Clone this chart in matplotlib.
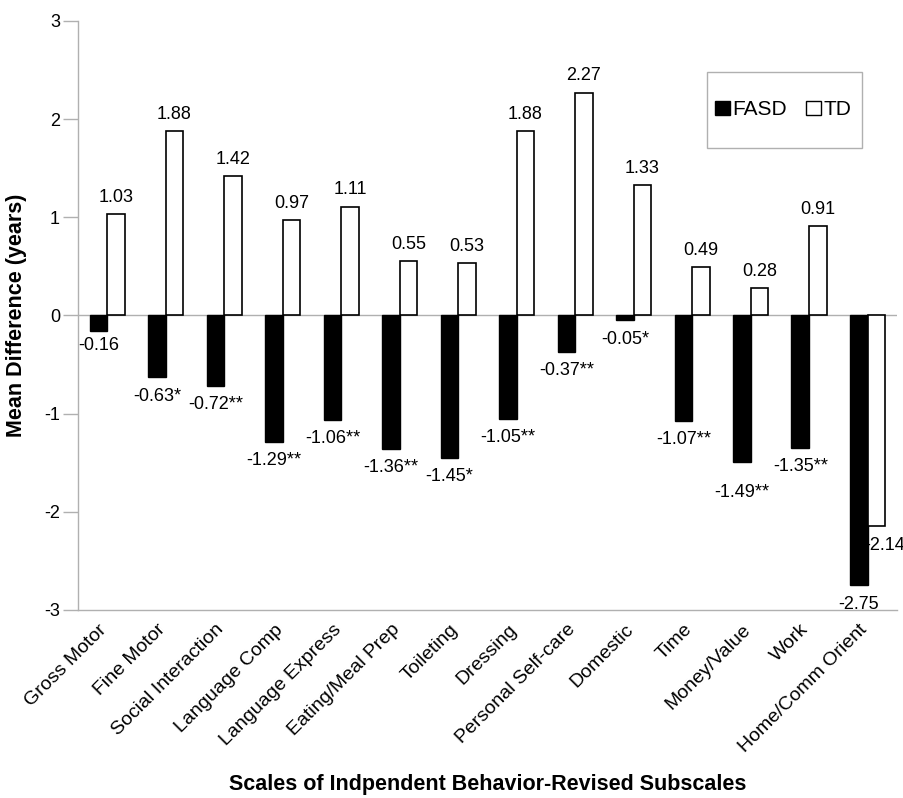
import numpy as np
import matplotlib.pyplot as plt
from matplotlib.patches import Rectangle

plt.rcParams['font.family'] = ['Liberation Sans', 'DejaVu Sans']
plt.rcParams['axes.unicode_minus'] = False

# subscales on the x axis
subscales = ["Gross Motor", "Fine Motor", "Social Interaction", "Language Comp",
             "Language Express", "Eating/Meal Prep", "Toileting", "Dressing",
             "Personal Self-care", "Domestic", "Time", "Money/Value", "Work",
             "Home/Comm Orient"]

# mean difference in years for each group
fasd = [-0.16, -0.63, -0.72, -1.29, -1.06, -1.36, -1.45, -1.05, -0.37, -0.05,
        -1.07, -1.49, -1.35, -2.75]
td = [1.03, 1.88, 1.42, 0.97, 1.11, 0.55, 0.53, 1.88, 2.27, 1.33, 0.49, 0.28,
      0.91, -2.14]

# significance marks printed after the FASD values
fasd_sig = ["", "*", "**", "**", "**", "**", "*", "**", "**", "*", "**", "**",
            "**", ""]

fig = plt.figure(figsize=(9.04, 7.98), dpi=100)
ax = fig.add_axes([0.0863, 0.2356, 0.9057, 0.7381])

x = np.arange(len(subscales))
w = 0.3
ax.bar(x - w / 2, fasd, w, color="black", edgecolor="black", linewidth=1.0, zorder=3)
ax.bar(x + w / 2, td, w, color="white", edgecolor="black", linewidth=1.2, zorder=3)

ax.axhline(0, color="#b0b0b0", linewidth=1.0, zorder=2)

# value labels
for i in range(len(subscales)):
    off = -13.5
    if fasd[i] == -1.49:
        off = -22  # this one sits lower in the original
    if fasd[i] == -0.16:
        off = -10
    ax.annotate(f"{fasd[i]:.2f}{fasd_sig[i]}", (x[i] - w / 2, fasd[i]),
                xytext=(0, off), textcoords="offset points",
                ha="center", va="center", fontsize=13, annotation_clip=False)
    if td[i] >= 0:
        ax.annotate(f"{td[i]:.2f}", (x[i] + w / 2, td[i]), xytext=(0, 12),
                    textcoords="offset points", ha="center", va="center",
                    fontsize=13)
    else:
        ax.annotate(f"{td[i]:.2f}", (x[i] + w / 2, td[i]), xytext=(6, -14),
                    textcoords="offset points", ha="center", va="center",
                    fontsize=13, annotation_clip=False)

ax.set_xlim(-0.5, len(subscales) - 0.5)
ax.set_ylim(-3, 3)
ax.set_yticks(np.arange(-3, 4, 1))
# labels sit a little left of the group centre, under the black bar
ax.set_xticks(x - w / 2)
ax.set_xticklabels(subscales, rotation=45, ha="right", rotation_mode="anchor",
                   fontsize=14)
ax.tick_params(axis="x", length=0, pad=8)
ax.tick_params(axis="y", length=11, width=1, color="#b0b0b0", labelsize=13, pad=2)

for s in ["top", "right"]:
    ax.spines[s].set_visible(False)
for s in ["left", "bottom"]:
    ax.spines[s].set_color("#b0b0b0")
    ax.spines[s].set_linewidth(1.0)

ax.set_ylabel("Mean Difference (years)", fontsize=15.5, fontweight="bold", labelpad=12)
ax.set_xlabel("Scales of Indpendent Behavior-Revised Subscales", fontsize=15.5,
              fontweight="bold")
ax.xaxis.set_label_coords(0.5, -0.278)

# legend frame drawn separately (tall box, tight sides)
ax.add_patch(Rectangle((0.768, 0.784), 0.189, 0.129, transform=ax.transAxes,
                       facecolor="white", edgecolor="#b0b0b0", linewidth=1.0,
                       zorder=4, clip_on=False))
handles = [Rectangle((0, 0), 1, 1, facecolor="black", edgecolor="black"),
           Rectangle((0, 0), 1, 1, facecolor="white", edgecolor="black")]
leg = ax.legend(handles, ["FASD", "TD"], ncol=2, loc="center left",
                bbox_to_anchor=(0.778, 0.849), fontsize=15, frameon=False,
                handlelength=0.7, handleheight=0.7, handletextpad=0.15,
                columnspacing=0.9, borderpad=0, borderaxespad=0)
leg.set_zorder(5)

fig.savefig("out.png", dpi=100)
